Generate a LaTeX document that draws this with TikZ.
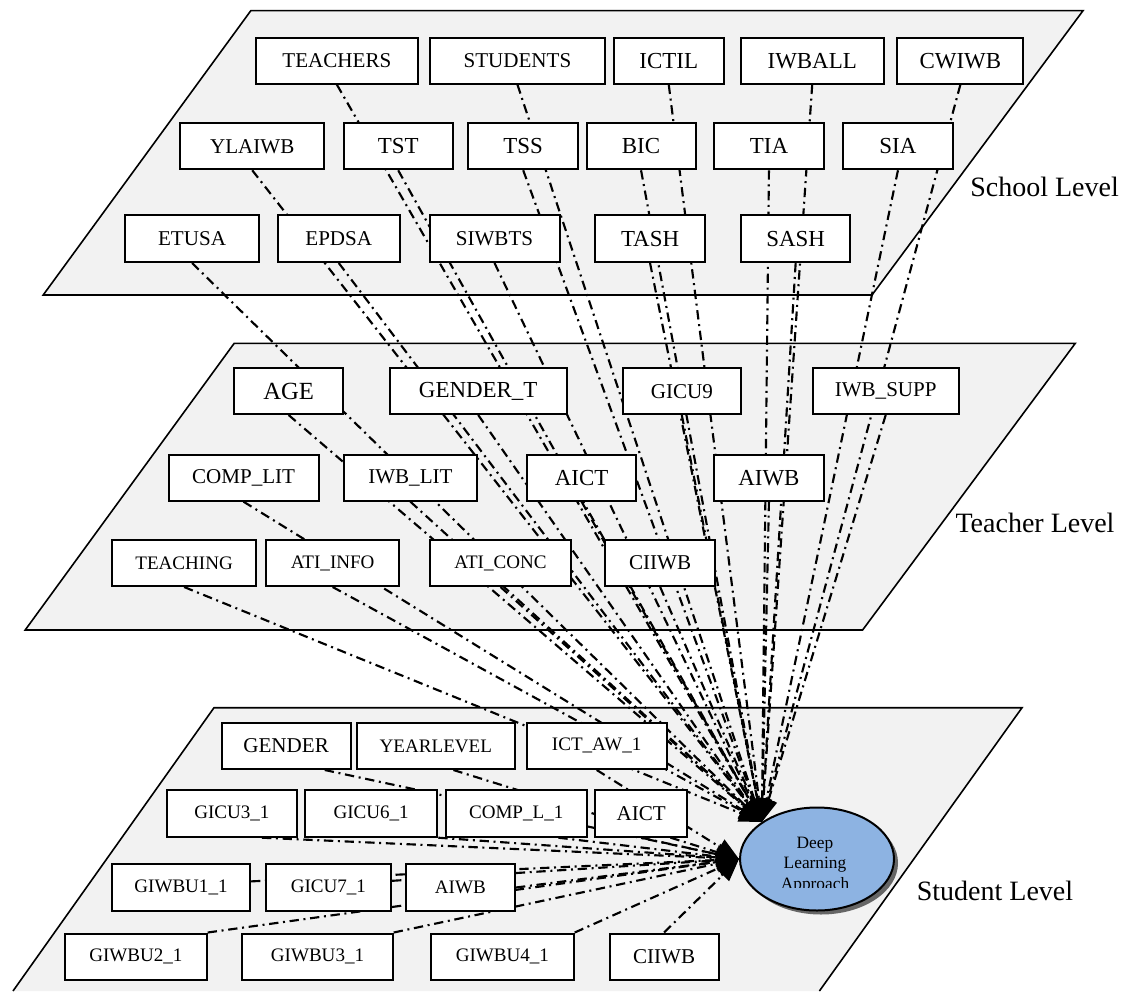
\documentclass[tikz,border=0pt]{standalone}
\usepackage{fontspec}
\setmainfont{Liberation Serif}
\usetikzlibrary{arrows.meta,shapes.geometric}
\pgfdeclarelayer{planes}
\pgfdeclarelayer{links}
\pgfsetlayers{planes,links,main}
\definecolor{dlablue}{HTML}{8DB3E2}
\definecolor{planegray}{HTML}{F2F2F2}

\tikzset{
  plane/.style={fill=planegray},
  planeedge/.style={draw=black, line width=1.2pt},
  varbox/.style={draw=black, fill=white, line width=1.5pt, inner sep=0pt, align=center},
  link/.style={line width=1.6pt, dash pattern=on 7pt off 3.5pt on 1.5pt off 3.5pt,
               -{Triangle[length=17pt,width=13pt]}},
  sz1/.style={font=\fontsize{14.3}{16}\selectfont},
  sz2/.style={font=\fontsize{15.8}{18}\selectfont},
  sz3/.style={font=\fontsize{17.2}{20}\selectfont},
  sz4/.style={font=\fontsize{18.5}{21}\selectfont},
  levellabel/.style={font=\fontsize{21}{24}\selectfont}
}

% box given by its corners: name, x1, y1, x2, y2, size style, text
\newcommand\varnode[7]{%
  \node[varbox, #6, minimum width={(#4-#2)*0.75pt}, minimum height={(#5-#3)*0.75pt}]
    (#1) at ({(#2+#4)/2},{(#3+#5)/2}) {#7};}

\begin{document}
\begin{tikzpicture}[x=0.75pt,y=-0.75pt]
\useasboundingbox (0,0) rectangle (1130,991);

% the three level planes
\begin{pgfonlayer}{planes}
  \fill[plane] (250.8,10.7) -- (1083,10.7) -- (872,295) -- (43.2,295) -- cycle;
  \draw[planeedge] (250.8,10.7) -- (1083,10.7) -- (872,295) -- (43.2,295) -- cycle;
  \fill[plane] (234.2,343.3) -- (1075.3,343.3) -- (862.6,630) -- (25.2,630) -- cycle;
  \draw[planeedge] (234.2,343.3) -- (1075.3,343.3) -- (862.6,630) -- (25.2,630) -- cycle;
  \fill[plane] (214,707.7) -- (1022,707.7) -- (819.4,991) -- (13,991) -- cycle;
  \draw[planeedge] (13,991) -- (214,707.7) -- (1022,707.7) -- (819.4,991);
\end{pgfonlayer}

% school level
\varnode{teachers}{255.8}{37.7}{418}{83.7}{sz2}{TEACHERS}
\varnode{students}{429.5}{37.7}{605.4}{83.7}{sz2}{STUDENTS}
\varnode{ictil}{614}{37.7}{723.5}{83.7}{sz3}{ICTIL}
\varnode{iwball}{740.9}{37.7}{883.5}{83.7}{sz3}{IWBALL}
\varnode{cwiwb}{897.3}{37.7}{1023.4}{83.7}{sz3}{CWIWB}
\varnode{ylaiwb}{180.2}{123.3}{324.3}{169.3}{sz2}{YLAIWB}
\varnode{tst}{343.8}{123.3}{452.6}{169.3}{sz3}{TST}
\varnode{tss}{468.4}{123.3}{578}{169.3}{sz3}{TSS}
\varnode{bic}{586.6}{123.3}{695.5}{169.3}{sz3}{BIC}
\varnode{tia}{714.2}{123.3}{823.7}{169.3}{sz3}{TIA}
\varnode{sia}{843.2}{123.3}{952.7}{169.3}{sz3}{SIA}
\varnode{etusa}{124.7}{215.3}{259.4}{262}{sz2}{ETUSA}
\varnode{epdsa}{277.5}{215.3}{400}{262}{sz2}{EPDSA}
\varnode{siwbts}{429.5}{215.3}{559.5}{262}{sz2}{SIWBTS}
\varnode{tash}{595.3}{215.3}{704.8}{262}{sz3}{TASH}
\varnode{sash}{740.9}{215.3}{850.4}{262}{sz3}{SASH}

% teacher level
\varnode{age}{234.2}{368.3}{343}{414}{sz4}{AGE}
\varnode{gendert}{389.9}{368.3}{566.5}{414}{sz3}{GENDER\_T}
\varnode{gicu9}{622.7}{368.3}{740.9}{414}{sz2}{GICU9}
\varnode{iwbsupp}{812.9}{368.3}{958.5}{414}{sz2}{IWB\_SUPP}
\varnode{complit}{168.6}{454.7}{318.5}{500.7}{sz2}{COMP\_LIT}
\varnode{iwblit}{343.8}{454.7}{477}{500.7}{sz2}{IWB\_LIT}
\varnode{taict}{526.8}{454.7}{636.4}{500.7}{sz3}{AICT}
\varnode{taiwb}{714.2}{454.7}{823.7}{500.7}{sz3}{AIWB}
\varnode{teaching}{112.4}{540}{255.8}{586}{sz1}{TEACHING}
\varnode{atiinfo}{266}{540}{399.3}{586}{sz1}{ATI\_INFO}
\varnode{aticonc}{430.2}{540}{570.8}{586}{sz1}{ATI\_CONC}
\varnode{tciiwb}{605.4}{540}{714.9}{586}{sz2}{CIIWB}

% student level
\varnode{gender}{221.7}{722.7}{350.5}{769}{sz2}{GENDER}
\varnode{yearlevel}{356.7}{722.7}{515}{769}{sz1}{YEARLEVEL}
\varnode{ictaw}{526.7}{722.7}{666.7}{769}{sz1}{ICT\_AW\_1}
\varnode{gicu3}{166.5}{790}{297.3}{836.7}{sz1}{GICU3\_1}
\varnode{gicu6}{305}{790}{437.3}{836.7}{sz1}{GICU6\_1}
\varnode{compl}{445.7}{790}{586.7}{836.7}{sz1}{COMP\_L\_1}
\varnode{saict}{595}{790}{687.3}{836.7}{sz2}{AICT}
\varnode{giwbu1}{112}{864.3}{250}{910.7}{sz1}{GIWBU1\_1}
\varnode{gicu7}{265.7}{864.3}{391}{910.7}{sz1}{GICU7\_1}
\varnode{saiwb}{405.7}{864.3}{515}{910.7}{sz1}{AIWB}
\varnode{giwbu2}{65}{933.5}{206.7}{979.5}{sz1}{GIWBU2\_1}
\varnode{giwbu3}{242.3}{933.5}{392.7}{979.5}{sz1}{GIWBU3\_1}
\varnode{giwbu4}{431}{933.5}{573.7}{979.5}{sz1}{GIWBU4\_1}
\varnode{sciiwb}{609.7}{933.5}{718.5}{979.5}{sz2}{CIIWB}

% outcome ellipse with its shadow
\fill[black!60] (821,863) ellipse [x radius=77, y radius=51.5];
\node[ellipse, draw=black, line width=1.5pt, fill=dlablue, inner sep=0pt,
      minimum width={154*0.75pt}, minimum height={103*0.75pt}] (dla) at (817,859) {};
\begin{scope}
  \clip (700,800) rectangle (900,887);
  \node[font=\fontsize{13}{15.5}\selectfont, align=center] (dlatext) at (815,865)
    {Deep\\Learning\\Approach};
\end{scope}

% level labels
\node[levellabel] (schoollab) at (1044.5,187) {School Level};
\node[levellabel] (teacherlab) at (1035,523) {Teacher Level};
\node[levellabel] (studentlab) at (995,890.7) {Student Level};

% paths into the outcome
\begin{pgfonlayer}{links}
  \foreach \n in {teachers,students,ictil,iwball,cwiwb,ylaiwb,tst,tss,bic,tia,sia,
                  etusa,epdsa,siwbts,tash,sash,age,gendert,gicu9,iwbsupp,complit,
                  iwblit,taict,taiwb,teaching,atiinfo,aticonc,tciiwb}
    \draw[link] (\n.south) -- (dla.north west);
  \draw[link] (gender.-32) -- (dla.west);
  \draw[link] (yearlevel.-54) -- (dla.west);
  \draw[link] (ictaw.south) -- (dla.west);
  \draw[link] (gicu3.-39) -- (dla.west);
  \draw[link] (gicu6.south east) -- (dla.west);
  \draw[link] (compl.-30) -- (dla.west);
  \draw[link] (saict.south) -- (dla.west);
  \draw[link] (giwbu1.5) -- (dla.west);
  \draw[link] (gicu7.6) -- (dla.west);
  \draw[link] (saiwb.east) -- (dla.west);
  \draw[link] (giwbu2.north east) -- (dla.west);
  \draw[link] (giwbu3.north east) -- (dla.west);
  \draw[link] (giwbu4.north east) -- (dla.west);
  \draw[link] (sciiwb.north) -- (dla.west);
\end{pgfonlayer}
\end{tikzpicture}
\end{document}
